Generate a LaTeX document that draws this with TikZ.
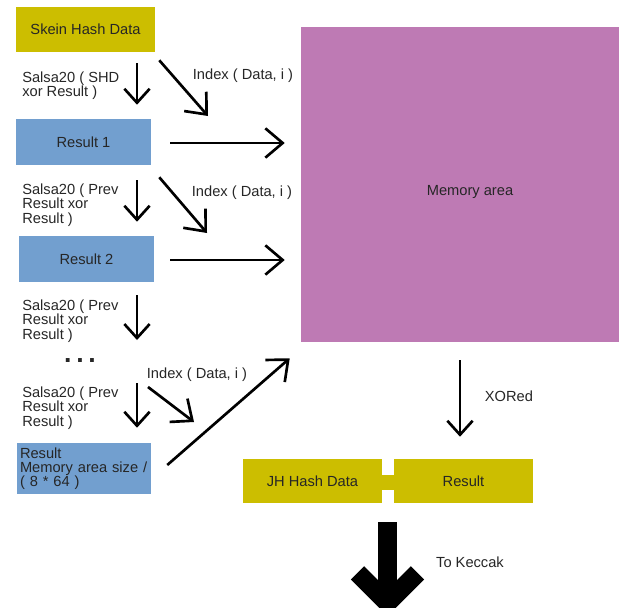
\documentclass[tikz,border=0pt]{standalone}
\usepackage{fontspec}
\setmainfont{Liberation Sans}
\usepackage{xcolor}
\usepackage{tikz}
\usetikzlibrary{positioning,calc,arrows.meta}
\definecolor{skeinyellow}{RGB}{204,190,0}
\definecolor{resultblue}{RGB}{114,159,207}
\definecolor{mempurple}{RGB}{190,122,180}

\begin{document}
\begin{tikzpicture}[x=0.75pt,y=-0.75pt,
        every node/.style={font=\fontsize{11}{10.8}\selectfont, text=black!85},
        hashbox/.style={fill=skeinyellow, minimum width=139*0.75pt, minimum height=45*0.75pt, inner sep=0pt},
        resbox/.style={fill=resultblue, minimum width=135*0.75pt, minimum height=46*0.75pt, inner sep=0pt},
        flow/.style={line width=2pt, -{Straight Barb[length=13pt,width=22pt]}},
        downflow/.style={line width=2pt, -{Straight Barb[length=10.5pt,width=19pt]}},
        bigflow/.style={line width=14pt, -{Straight Barb[length=22.5pt,width=45pt]}},
        lbl/.style={align=left, anchor=west, inner sep=0pt}]
        \useasboundingbox (0,0) rectangle (624,607);

        \node[hashbox] (skein) at (85.5,29.5) {Skein Hash Data};
        \node[resbox] (res1) at (83.5,142) {Result 1};
        \node[resbox] (res2) at (86.5,259) {Result 2};
        \node[resbox, minimum width=134*0.75pt, minimum height=51*0.75pt, inner xsep=3*0.75pt, text width=128*0.75pt, align=left, font=\fontsize{11}{10.5}\selectfont] (resn) at (84,468.5) {Result\\Memory area size /\\( 8 * 64 )};
        \node[fill=mempurple, minimum width=318*0.75pt, minimum height=315*0.75pt] (mem) at (460,184.5) {};
        \node (memlabel) at (470,192) {Memory area};
        \node[hashbox, minimum height=44*0.75pt] (jh) at (312.5,481) {JH Hash Data};
        \node[hashbox, minimum height=44*0.75pt] (jhres) at (463.5,481) {Result};
        \node[fill=skeinyellow, minimum width=13*0.75pt, minimum height=15*0.75pt, inner sep=0pt] (joint) at (388,482.5) {};
        \node (dots) at (80,361) {\fontsize{20}{20}\selectfont\bfseries .\hspace{3.5pt}.\hspace{3.5pt}.};

        \node[lbl] (salsa1) at (22,86) {Salsa20 ( SHD\\xor Result )};
        \node[lbl] (salsa2) at (22,205) {Salsa20 ( Prev\\Result xor\\Result )};
        \node[lbl] (salsa3) at (22,321) {Salsa20 ( Prev\\Result xor\\Result )};
        \node[lbl] (salsa4) at (22,408) {Salsa20 ( Prev\\Result xor\\Result )};
        \node (index1) at (243,76) {Index ( Data, i )};
        \node (index2) at (242,193) {Index ( Data, i )};
        \node (index3) at (197,375) {Index ( Data, i )};
        \node (xored) at (509,396) {XORed};
        \node (tokeccak) at (470,562) {To Keccak};

        \coordinate (col) at (137,0);
        \coordinate (s3end) at (137,340);
        \coordinate (s4top) at (137,383);
        \coordinate (ix1) at (208,116);
        \coordinate (ix2) at (207,233);
        \coordinate (ix3a) at (148,387);
        \coordinate (ix3b) at (194,422);
        \coordinate (keccak) at (387.5,616);

        \draw[downflow, shorten <=11*0.75pt, shorten >=14*0.75pt] (skein.south -| col) -- (res1.north -| col);
        \draw[downflow, shorten <=15*0.75pt, shorten >=14*0.75pt] (res1.south -| col) -- (res2.north -| col);
        \draw[downflow, shorten <=13*0.75pt] (res2.south -| col) -- (s3end);
        \draw[downflow, shorten >=15*0.75pt] (s4top) -- (resn.north -| col);

        \draw[flow] ([shift={(4,8)}]skein.south east) -- (ix1);
        \draw[flow] ([shift={(8,12)}]res1.south east) -- (ix2);
        \draw[flow] (ix3a) -- (ix3b);
        \draw[flow] ([shift={(16,-3.5)}]resn.east) -- ([shift={(-11,16)}]mem.south west);

        \draw[flow, shorten <=19*0.75pt, shorten >=16*0.75pt] ([yshift=-0.75pt]res1.east) -- ([yshift=-0.75pt]res1.east -| mem.west);
        \draw[flow, shorten <=16*0.75pt, shorten >=16*0.75pt] ([yshift=-0.75pt]res2.east) -- ([yshift=-0.75pt]res2.east -| mem.west);
        \draw[downflow, shorten <=18*0.75pt, shorten >=22*0.75pt] (mem.south) -- (mem.south |- jhres.north);

        \draw[bigflow, shorten <=32*0.75pt] (joint.south -| keccak) -- (keccak);
    \end{tikzpicture}
\end{document}
